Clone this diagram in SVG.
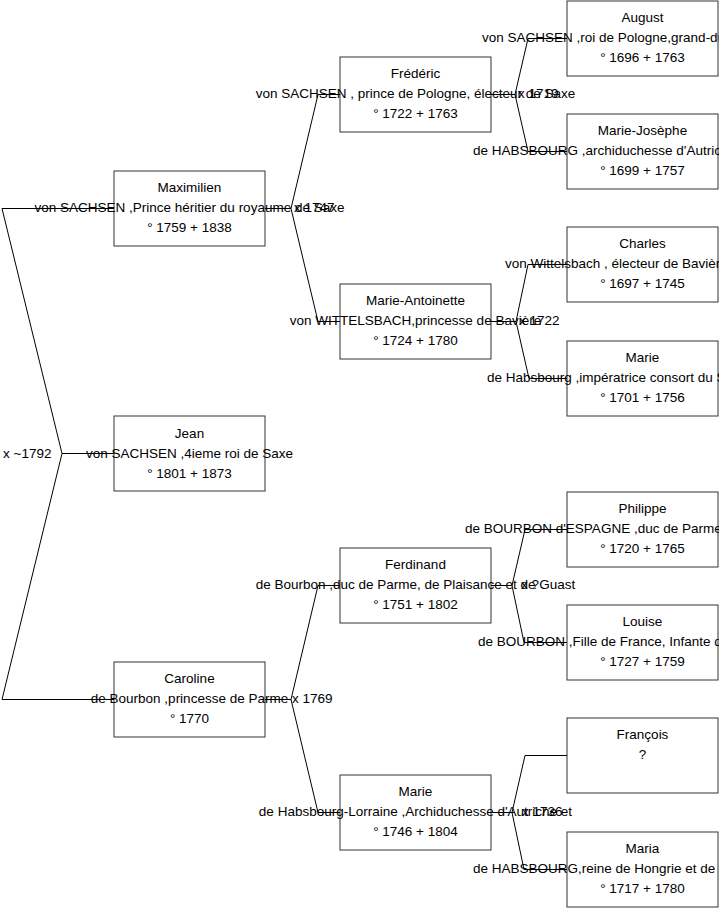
<svg xmlns="http://www.w3.org/2000/svg" width="719" height="908" viewBox="0 0 719 908">
<style>
.box{fill:#fff;stroke:#333;stroke-width:1}
text{font-family:"Liberation Sans",Arial,sans-serif;font-size:13.5px;fill:#000}
.c{text-anchor:middle}
.s{text-anchor:start}
.ln{stroke:#000;stroke-width:1;fill:none}
</style>
<rect width="719" height="908" fill="#fff"/>
<g id="nodes">
<g id="maximilien"><rect class="box" x="114" y="171" width="151" height="75"/>
<text class="c" x="189.5" y="192">Maximilien</text><text class="c" x="189.5" y="212">von SACHSEN ,Prince héritier du royaume de Saxe</text><text class="c" x="189.5" y="232">° 1759 + 1838</text></g>
<g id="jean"><rect class="box" x="114" y="416" width="151" height="75"/>
<text class="c" x="189.5" y="438">Jean</text><text class="c" x="189.5" y="458">von SACHSEN ,4ieme roi de Saxe</text><text class="c" x="189.5" y="478">° 1801 + 1873</text></g>
<g id="caroline"><rect class="box" x="114" y="662" width="151" height="75"/>
<text class="c" x="189.5" y="683">Caroline</text><text class="c" x="189.5" y="703">de Bourbon ,princesse de Parme</text><text class="c" x="189.5" y="723">° 1770</text></g>
<g id="frederic"><rect class="box" x="340" y="57" width="151" height="75"/>
<text class="c" x="415.5" y="78">Frédéric</text><text class="c" x="415.5" y="98">von SACHSEN , prince de Pologne, électeur de Saxe</text><text class="c" x="415.5" y="118">° 1722 + 1763</text></g>
<g id="marie-antoinette"><rect class="box" x="340" y="284" width="151" height="75"/>
<text class="c" x="415.5" y="305">Marie-Antoinette</text><text class="c" x="415.5" y="325">von WITTELSBACH,princesse de Bavière</text><text class="c" x="415.5" y="345">° 1724 + 1780</text></g>
<g id="ferdinand"><rect class="box" x="340" y="548" width="151" height="75"/>
<text class="c" x="415.5" y="569">Ferdinand</text><text class="c" x="415.5" y="589">de Bourbon ,duc de Parme, de Plaisance et de Guast</text><text class="c" x="415.5" y="609">° 1751 + 1802</text></g>
<g id="marie-hl"><rect class="box" x="340" y="775" width="151" height="75"/>
<text class="c" x="415.5" y="796">Marie</text><text class="c" x="415.5" y="816">de Habsbourg-Lorraine ,Archiduchesse d'Autriche et</text><text class="c" x="415.5" y="836">° 1746 + 1804</text></g>
<g id="august"><rect class="box" x="567" y="1" width="151" height="75"/>
<text class="c" x="642.5" y="22">August</text><text class="s" x="482" y="42">von SACHSEN ,roi de Pologne,grand-du</text><text class="c" x="642.5" y="62">° 1696 + 1763</text></g>
<g id="marie-josephe"><rect class="box" x="567" y="114" width="151" height="75"/>
<text class="c" x="642.5" y="135">Marie-Josèphe</text><text class="s" x="473" y="155">de HABSBOURG ,archiduchesse d'Autric</text><text class="c" x="642.5" y="175">° 1699 + 1757</text></g>
<g id="charles"><rect class="box" x="567" y="227" width="151" height="75"/>
<text class="c" x="642.5" y="248">Charles</text><text class="s" x="505" y="268">von Wittelsbach , électeur de Bavièr</text><text class="c" x="642.5" y="288">° 1697 + 1745</text></g>
<g id="marie-h"><rect class="box" x="567" y="341" width="151" height="75"/>
<text class="c" x="642.5" y="362">Marie</text><text class="s" x="487" y="382">de Habsbourg ,impératrice consort du S</text><text class="c" x="642.5" y="402">° 1701 + 1756</text></g>
<g id="philippe"><rect class="box" x="567" y="492" width="151" height="75"/>
<text class="c" x="642.5" y="513">Philippe</text><text class="s" x="465" y="533">de BOURBON d'ESPAGNE ,duc de Parme</text><text class="c" x="642.5" y="553">° 1720 + 1765</text></g>
<g id="louise"><rect class="box" x="567" y="605" width="151" height="75"/>
<text class="c" x="642.5" y="626">Louise</text><text class="s" x="478" y="646">de BOURBON ,Fille de France, Infante d</text><text class="c" x="642.5" y="666">° 1727 + 1759</text></g>
<g id="francois"><rect class="box" x="567" y="718" width="151" height="75"/>
<text class="c" x="642.5" y="739">François</text><text class="c" x="642.5" y="759">?</text></g>
<g id="maria"><rect class="box" x="567" y="832" width="151" height="75"/>
<text class="c" x="642.5" y="853">Maria</text><text class="s" x="473" y="873">de HABSBOURG,reine de Hongrie et de</text><text class="c" x="642.5" y="893">° 1717 + 1780</text></g>
</g>
<g id="connectors" class="ln">
<polyline class="ln" points="114,208.5 2,208.5 62,453.5 2,699.5 114,699.5"/>
<line class="ln" x1="62" y1="453.5" x2="114" y2="453.5"/>
<polyline class="ln" points="340,94.5 318,94.5 291,208.5 318,321.5 340,321.5"/>
<line class="ln" x1="265" y1="208.5" x2="291" y2="208.5"/>
<polyline class="ln" points="340,585.5 318,585.5 291,699.5 318,812.5 340,812.5"/>
<line class="ln" x1="265" y1="699.5" x2="291" y2="699.5"/>
<polyline class="ln" points="567,38.5 528,38.5 515,94.5 528,151.5 567,151.5"/>
<line class="ln" x1="491" y1="94.5" x2="515" y2="94.5"/>
<polyline class="ln" points="567,264.5 528,264.5 516,321.5 529,378.5 567,378.5"/>
<line class="ln" x1="491" y1="321.5" x2="516" y2="321.5"/>
<polyline class="ln" points="567,529.5 525,529.5 512,585.5 524,642.5 567,642.5"/>
<line class="ln" x1="491" y1="585.5" x2="512" y2="585.5"/>
<polyline class="ln" points="567,755.5 525,755.5 512,812.5 524,869.5 567,869.5"/>
<line class="ln" x1="491" y1="812.5" x2="512" y2="812.5"/>
</g>
<g id="labels">
<text class="s" x="3" y="458">x ~1792</text>
<text class="s" x="294" y="212">x 1747</text>
<text class="s" x="292" y="703">x 1769</text>
<text class="s" x="518" y="98">x 1719</text>
<text class="s" x="519" y="325">x 1722</text>
<text class="s" x="521" y="589">x ?</text>
<text class="s" x="522" y="816">x 1736</text>
</g>
</svg>
